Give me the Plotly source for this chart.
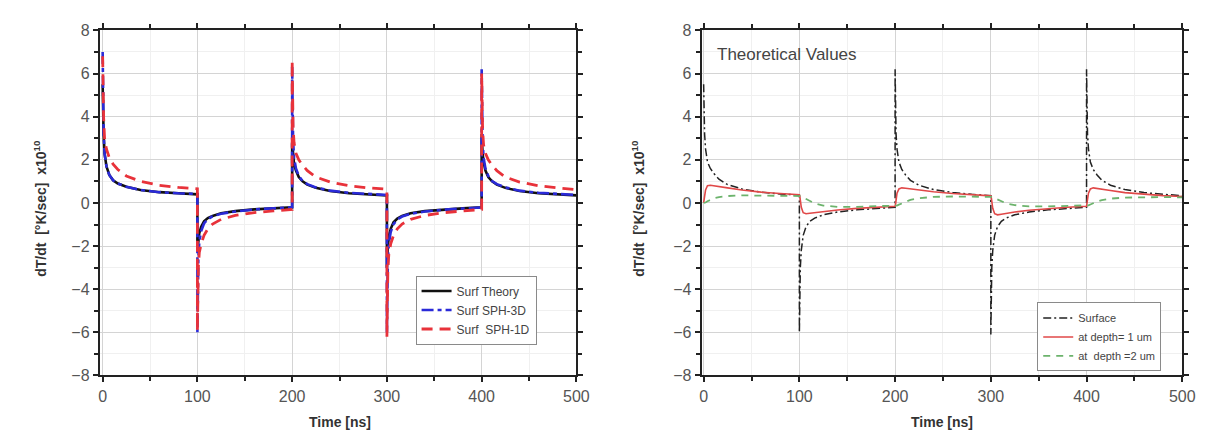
import plotly.graph_objects as go

# ---------------- data ----------------
TIME = [0, 0.5, 1, 2, 4, 7, 11, 16, 25, 40, 60, 80, 100,
        100, 100.5, 101, 102, 104, 107, 111, 116, 125, 140, 160, 180, 200,
        200, 200.5, 201, 202, 204, 207, 211, 216, 225, 240, 260, 280, 300,
        300, 300.5, 301, 302, 304, 307, 311, 316, 325, 340, 360, 380, 400,
        400, 400.5, 401, 402, 404, 407, 411, 416, 425, 440, 460, 480, 500]

surf_theory = [5.5, 4.0, 3.2, 2.3, 1.7, 1.3, 1.05, 0.9, 0.75, 0.6, 0.5, 0.45, 0.4,
               -2.2, -1.9, -1.7, -1.4, -1.1, -0.85, -0.7, -0.6, -0.48, -0.38, -0.3, -0.25, -0.2,
               2.8, 2.5, 2.2, 1.8, 1.5, 1.2, 1.0, 0.85, 0.7, 0.55, 0.45, 0.4, 0.35,
               -3.0, -2.4, -2.0, -1.6, -1.2, -0.9, -0.72, -0.6, -0.48, -0.38, -0.3, -0.25, -0.2,
               3.2, 2.7, 2.3, 1.9, 1.5, 1.2, 1.0, 0.85, 0.7, 0.55, 0.45, 0.4, 0.35]

surf_sph3d = [7.0, 4.5, 3.3, 2.3, 1.7, 1.3, 1.05, 0.9, 0.75, 0.6, 0.5, 0.45, 0.42,
              -6.0, -3.5, -2.6, -1.8, -1.3, -0.95, -0.75, -0.62, -0.5, -0.4, -0.3, -0.25, -0.2,
              6.3, 3.8, 2.9, 2.1, 1.6, 1.25, 1.02, 0.87, 0.72, 0.57, 0.47, 0.42, 0.37,
              -6.0, -3.6, -2.7, -1.9, -1.35, -0.98, -0.77, -0.63, -0.5, -0.4, -0.31, -0.26, -0.21,
              6.2, 3.8, 2.9, 2.1, 1.6, 1.25, 1.02, 0.87, 0.72, 0.57, 0.47, 0.42, 0.37]

surf_sph1d = [6.8, 5.0, 4.0, 3.0, 2.5, 2.1, 1.8, 1.55, 1.25, 1.0, 0.82, 0.72, 0.66,
              -5.9, -4.0, -3.0, -2.3, -1.9, -1.5, -1.2, -0.98, -0.76, -0.58, -0.45, -0.37, -0.3,
              6.6, 4.5, 3.5, 2.8, 2.3, 2.0, 1.75, 1.5, 1.2, 0.97, 0.8, 0.7, 0.64,
              -6.2, -4.2, -3.1, -2.4, -1.9, -1.5, -1.2, -0.98, -0.76, -0.58, -0.45, -0.37, -0.3,
              6.0, 4.3, 3.4, 2.7, 2.3, 2.0, 1.75, 1.5, 1.2, 0.97, 0.8, 0.7, 0.62]

th_surface = [5.5, 4.0, 3.2, 2.5, 1.9, 1.6, 1.35, 1.1, 0.85, 0.65, 0.5, 0.42, 0.36,
              -6.0, -3.8, -3.0, -2.2, -1.5, -1.1, -0.85, -0.7, -0.55, -0.42, -0.32, -0.26, -0.2,
              6.2, 4.0, 3.2, 2.5, 1.9, 1.55, 1.3, 1.05, 0.82, 0.62, 0.48, 0.4, 0.34,
              -6.1, -3.8, -3.0, -2.2, -1.5, -1.1, -0.85, -0.7, -0.55, -0.42, -0.32, -0.26, -0.2,
              6.2, 4.0, 3.2, 2.5, 1.9, 1.55, 1.3, 1.05, 0.82, 0.62, 0.48, 0.4, 0.34]

th_depth1 = [0.0, 0.1, 0.3, 0.6, 0.8, 0.82, 0.8, 0.76, 0.7, 0.6, 0.5, 0.44, 0.38,
             0.38, 0.3, 0.1, -0.2, -0.45, -0.5, -0.48, -0.45, -0.4, -0.33, -0.25, -0.2, -0.15,
             -0.15, -0.05, 0.15, 0.45, 0.65, 0.7, 0.68, 0.65, 0.6, 0.52, 0.44, 0.38, 0.33,
             0.33, 0.25, 0.05, -0.25, -0.5, -0.55, -0.52, -0.48, -0.42, -0.34, -0.26, -0.2, -0.15,
             -0.15, -0.05, 0.15, 0.45, 0.65, 0.7, 0.68, 0.65, 0.58, 0.48, 0.4, 0.34, 0.3]

th_depth2 = [0.0, 0.0, 0.0, 0.02, 0.08, 0.15, 0.22, 0.27, 0.32, 0.35, 0.35, 0.34, 0.33,
             0.33, 0.33, 0.32, 0.3, 0.25, 0.18, 0.08, -0.02, -0.12, -0.18, -0.18, -0.16, -0.14,
             -0.14, -0.14, -0.13, -0.12, -0.08, -0.02, 0.06, 0.14, 0.22, 0.28, 0.3, 0.3, 0.29,
             0.29, 0.29, 0.28, 0.26, 0.22, 0.16, 0.07, -0.02, -0.1, -0.16, -0.16, -0.15, -0.13,
             -0.13, -0.13, -0.12, -0.11, -0.07, -0.01, 0.06, 0.13, 0.2, 0.25, 0.27, 0.27, 0.26]

X_TICKS = [0, 100, 200, 300, 400, 500]
Y_TICKS = [-8, -6, -4, -2, 0, 2, 4, 6, 8]

# ---------------- figure ----------------
W, H = 1208, 438
FONT = "Liberation Sans, Arial, sans-serif"

def px_x(p):
    return p / W

def px_y(p):
    return 1 - p / H

fig = go.Figure()

fig.add_trace(go.Scatter(x=TIME, y=surf_theory, mode="lines", name="Surf Theory",
                         line=dict(color="#111111", width=2.6), xaxis="x", yaxis="y",
                         legend="legend"))
fig.add_trace(go.Scatter(x=TIME, y=surf_sph3d, mode="lines", name="Surf SPH-3D",
                         line=dict(color="#2a2ad8", width=2.6, dash="12px,4px,4px,4px"),
                         xaxis="x", yaxis="y", legend="legend"))
fig.add_trace(go.Scatter(x=TIME, y=surf_sph1d, mode="lines", name="Surf  SPH-1D",
                         line=dict(color="#e8323a", width=2.8, dash="11px,7px"),
                         xaxis="x", yaxis="y", legend="legend"))

fig.add_trace(go.Scatter(x=TIME, y=th_surface, mode="lines", name="Surface",
                         line=dict(color="#222222", width=1.5, dash="8px,3px,2px,3px"),
                         xaxis="x2", yaxis="y2", legend="legend2"))
fig.add_trace(go.Scatter(x=TIME, y=th_depth1, mode="lines", name="at depth= 1 um",
                         line=dict(color="#e04848", width=1.6),
                         xaxis="x2", yaxis="y2", legend="legend2"))
fig.add_trace(go.Scatter(x=TIME, y=th_depth2, mode="lines", name="at  depth =2 um",
                         line=dict(color="#6cb36c", width=1.8, dash="7px,6px"),
                         xaxis="x2", yaxis="y2", legend="legend2"))

axis_common = dict(
    showline=True, linecolor="#222222", linewidth=2, mirror="allticks",
    ticks="outside", ticklen=5, tickwidth=1.5, tickcolor="#222222",
    showgrid=True, gridcolor="#d4d4d4", gridwidth=1,
    zeroline=False,
    tickfont=dict(family=FONT, size=16, color="#555555"),
)

y_dom = [px_y(374), px_y(15)]

fig.update_layout(
    width=W, height=H,
    margin=dict(l=0, r=0, t=0, b=0),
    paper_bgcolor="white", plot_bgcolor="white",
    font=dict(family=FONT, color="#333333"),
    xaxis=dict(axis_common, domain=[px_x(90), px_x(573)], range=[-3, 500],
               tickvals=X_TICKS, anchor="y",
               minor=dict(dtick=50, tick0=0, ticks="outside", ticklen=4, tickcolor="#222222",
                          showgrid=True, gridcolor="#f0f0f0")),
    yaxis=dict(axis_common, domain=y_dom, range=[-8, 8], tickvals=Y_TICKS, anchor="x",
               minor=dict(dtick=1, tick0=0, ticks="outside", ticklen=4, tickcolor="#222222",
                          showgrid=True, gridcolor="#f0f0f0")),
    xaxis2=dict(axis_common, domain=[px_x(700), px_x(1187)], range=[-2, 500],
                tickvals=X_TICKS, anchor="y2",
                minor=dict(dtick=50, tick0=0, ticks="outside", ticklen=4, tickcolor="#222222",
                           showgrid=True, gridcolor="#f0f0f0")),
    yaxis2=dict(axis_common, domain=y_dom, range=[-8, 8], tickvals=Y_TICKS, anchor="x2",
                minor=dict(dtick=1, tick0=0, ticks="outside", ticklen=4, tickcolor="#222222",
                           showgrid=True, gridcolor="#f0f0f0")),
    legend=dict(x=px_x(410), y=px_y(270), xanchor="left", yanchor="top",
                bgcolor="white", bordercolor="#8a8a8a", borderwidth=1,
                font=dict(family=FONT, size=12, color="#444444"),
                tracegroupgap=0, itemwidth=30),
    legend2=dict(x=px_x(1040), y=px_y(298), xanchor="left", yanchor="top",
                 bgcolor="white", bordercolor="#8a8a8a", borderwidth=1,
                 font=dict(family=FONT, size=11, color="#444444"),
                 tracegroupgap=0, itemwidth=30),
    showlegend=True,
)

ytitle = "<b>dT/dt  [°K/sec]  x10<sup>10</sup></b>"
annos = [
    dict(text=ytitle, x=px_x(30), y=px_y(200), textangle=-90),
    dict(text=ytitle, x=px_x(636), y=px_y(200), textangle=-90),
    dict(text="<b>Time [ns]</b>", x=px_x(333), y=px_y(422)),
    dict(text="<b>Time [ns]</b>", x=px_x(943), y=px_y(422)),
]
for a in annos:
    fig.add_annotation(xref="paper", yref="paper", showarrow=False,
                       xanchor="center", yanchor="middle",
                       font=dict(family=FONT, size=14, color="#333333"), **a)

fig.add_annotation(xref="paper", yref="paper", showarrow=False,
                   x=px_x(713), y=px_y(40), xanchor="left", yanchor="middle",
                   text="Theoretical Values",
                   font=dict(family=FONT, size=17, color="#444444"))

fig.write_html("out.html")
